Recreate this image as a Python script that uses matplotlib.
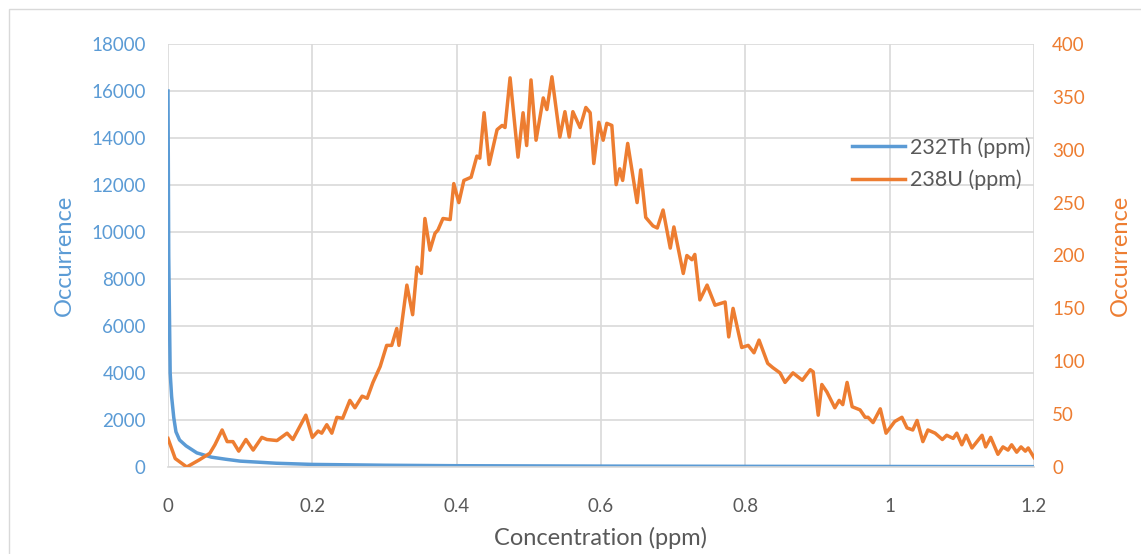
import matplotlib
matplotlib.use("Agg")
import matplotlib.pyplot as plt
from matplotlib.patches import Rectangle

plt.rcParams['font.family'] = ['Lato', 'DejaVu Sans']

# 232Th (ppm) - left axis
th_x = [0, 0.001, 0.003, 0.005, 0.008, 0.011, 0.016, 0.025, 0.04, 0.06,
        0.08, 0.1, 0.15, 0.2, 0.3, 0.4, 0.6, 0.8, 1.0, 1.2]
th_y = [16000, 9000, 4000, 3000, 2100, 1500, 1150, 900, 600, 420,
        330, 250, 160, 110, 75, 55, 38, 28, 22, 15]

# 238U (ppm) - right axis
u_x = [0.000, 0.010, 0.026, 0.044, 0.058, 0.065, 0.075, 0.082, 0.090, 0.098,
       0.108, 0.118, 0.130, 0.137, 0.151, 0.165, 0.173, 0.191, 0.200, 0.208,
       0.213, 0.220, 0.227, 0.234, 0.242, 0.252, 0.259, 0.269, 0.276, 0.284,
       0.294, 0.303, 0.310, 0.317, 0.320, 0.331, 0.339, 0.345, 0.351, 0.356,
       0.363, 0.370, 0.374, 0.381, 0.391, 0.396, 0.403, 0.410, 0.420, 0.428,
       0.432, 0.438, 0.445, 0.456, 0.463, 0.467, 0.474, 0.485, 0.492, 0.497,
       0.503, 0.510, 0.520, 0.525, 0.532, 0.543, 0.550, 0.556, 0.561, 0.571,
       0.579, 0.585, 0.590, 0.597, 0.603, 0.608, 0.615, 0.621, 0.626, 0.630,
       0.637, 0.650, 0.655, 0.662, 0.672, 0.678, 0.686, 0.696, 0.701, 0.714,
       0.719, 0.726, 0.730, 0.737, 0.747, 0.758, 0.772, 0.777, 0.783, 0.795,
       0.804, 0.812, 0.819, 0.831, 0.838, 0.848, 0.855, 0.866, 0.879, 0.890,
       0.894, 0.901, 0.906, 0.913, 0.924, 0.930, 0.935, 0.941, 0.948, 0.959,
       0.966, 0.970, 0.977, 0.987, 0.995, 1.007, 1.017, 1.024, 1.032, 1.038,
       1.046, 1.053, 1.063, 1.073, 1.079, 1.088, 1.093, 1.100, 1.106, 1.114,
       1.128, 1.133, 1.140, 1.150, 1.157, 1.164, 1.169, 1.176, 1.182, 1.188,
       1.192, 1.200]
u_y = [27, 8, 0, 7, 13, 21, 35, 24, 24, 15,
       26, 16, 28, 26, 25, 32, 26, 49, 28, 34,
       32, 40, 32, 47, 46, 63, 56, 67, 65, 80,
       95, 115, 115, 131, 115, 172, 144, 189, 183, 235,
       205, 221, 224, 235, 234, 268, 250, 271, 274, 294,
       292, 335, 286, 319, 323, 321, 368, 293, 335, 304,
       366, 309, 349, 338, 369, 312, 336, 312, 336, 321,
       340, 335, 287, 326, 309, 325, 323, 267, 282, 271,
       306, 250, 281, 236, 228, 226, 243, 207, 227, 183,
       200, 196, 201, 158, 172, 153, 156, 123, 150, 113,
       115, 108, 120, 98, 94, 89, 80, 89, 82, 92,
       90, 49, 78, 71, 56, 63, 59, 80, 57, 54,
       47, 47, 42, 55, 32, 43, 47, 37, 35, 44,
       24, 35, 32, 26, 30, 27, 32, 21, 30, 18,
       30, 19, 28, 12, 19, 16, 21, 14, 19, 15,
       18, 9]

x_ticks = [0, 0.2, 0.4, 0.6, 0.8, 1.0, 1.2]
x_tick_labels = ["0", "0.2", "0.4", "0.6", "0.8", "1", "1.2"]
left_ticks = list(range(0, 18001, 2000))
right_ticks = list(range(0, 401, 50))

BLUE = "#5B9BD5"
ORANGE = "#ED7D31"
GRID = "#D9D9D9"
TEXT = "#595959"

fig = plt.figure(figsize=(11.41, 5.54), dpi=100)
fig.patches.append(Rectangle((9 / 1141, -0.1), 1.2, 1.1 - 9 / 554,
                             transform=fig.transFigure, fill=False,
                             edgecolor=GRID, linewidth=1))

ax = fig.add_axes([168 / 1141, 1 - 467 / 554, 866 / 1141, 423 / 554])
ax2 = ax.twinx()

l1, = ax.plot(th_x, th_y, color=BLUE, linewidth=2.5, label="232Th (ppm)")
l2, = ax2.plot(u_x, u_y, color=ORANGE, linewidth=2.5, label="238U (ppm)")

ax.set_xlim(0, 1.2)
ax.set_ylim(0, 18000)
ax2.set_ylim(0, 400)
ax.set_xticks(x_ticks)
ax.set_xticklabels(x_tick_labels)
ax.set_yticks(left_ticks)
ax2.set_yticks(right_ticks)

ax.grid(True, color=GRID, linewidth=1.2)
ax.set_axisbelow(True)
for a in (ax, ax2):
    for s in a.spines.values():
        s.set_visible(False)
ax.spines['bottom'].set_visible(True)
ax.spines['bottom'].set_color(GRID)
ax.spines['bottom'].set_linewidth(1.2)

ax.tick_params(axis='x', length=0, pad=22, labelsize=13.5, labelcolor=TEXT)
ax.tick_params(axis='y', length=0, pad=16, labelsize=13.5, labelcolor=BLUE)
ax2.tick_params(axis='y', length=0, pad=13, labelsize=13.5, labelcolor=ORANGE)

ax.set_xlabel("Concentration (ppm)", fontsize=17, color=TEXT, labelpad=9)
ax.set_ylabel("Occurrence", fontsize=17, color=BLUE, labelpad=12)
ax2.set_ylabel("Occurrence", fontsize=17, color=ORANGE, labelpad=18)

ax2.legend(handles=[l1, l2], loc="upper left", bbox_to_anchor=(0.79, 0.78),
           frameon=False, fontsize=15.5, labelcolor=TEXT, handlelength=2.45,
           handletextpad=0.25, borderaxespad=0, borderpad=0, labelspacing=0.55)

fig.savefig("out.png", dpi=100)
